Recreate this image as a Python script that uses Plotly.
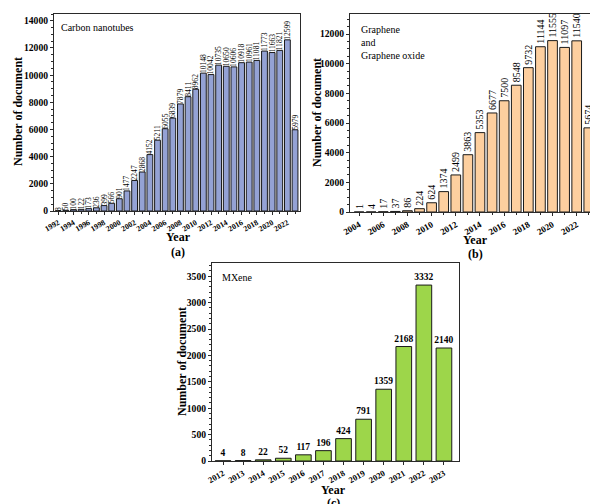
import plotly.graph_objects as go

# ---------------- data ----------------
cnt_years = [1992, 1993, 1994, 1995, 1996, 1997, 1998, 1999, 2000, 2001, 2002, 2003,
             2004, 2005, 2006, 2007, 2008, 2009, 2010, 2011, 2012, 2013, 2014, 2015,
             2016, 2017, 2018, 2019, 2020, 2021, 2022, 2023]
cnt_values = [8, 50, 100, 122, 173, 236, 399, 566, 901, 1477, 2247, 2868,
              4152, 5211, 6055, 6839, 7879, 8411, 8962, 10148, 10042, 10735, 10650, 10606,
              10918, 10961, 11081, 11773, 11663, 11821, 12599, 5979]
cnt_ticks = [1992, 1994, 1996, 1998, 2000, 2002, 2004, 2006, 2008, 2010,
             2012, 2014, 2016, 2018, 2020, 2022]

gr_years = [2004, 2005, 2006, 2007, 2008, 2009, 2010, 2011, 2012, 2013,
            2014, 2015, 2016, 2017, 2018, 2019, 2020, 2021, 2022, 2023]
gr_values = [1, 4, 17, 37, 86, 224, 624, 1374, 2499, 3863,
             5353, 6677, 7500, 8548, 9732, 11144, 11555, 11097, 11540, 5674]
gr_ticks = [2004, 2006, 2008, 2010, 2012, 2014, 2016, 2018, 2020, 2022]

mx_years = [2012, 2013, 2014, 2015, 2016, 2017, 2018, 2019, 2020, 2021, 2022, 2023]
mx_values = [4, 8, 22, 52, 117, 196, 424, 791, 1359, 2168, 3332, 2140]

W, H = 590, 504
FONT = "Liberation Serif"


def px(x):
    return x / W


def py(y):
    return 1 - y / H


fig = go.Figure()

fig.add_trace(go.Bar(
    x=cnt_years, y=cnt_values, xaxis="x", yaxis="y",
    marker=dict(color="#94a2d4", line=dict(color="#1a1a1a", width=1)),
    width=0.76, text=cnt_values, textposition="outside", textangle=-90,
    constraintext="none", cliponaxis=False,
    textfont=dict(family=FONT, size=7.6, color="black"),
))
fig.add_trace(go.Bar(
    x=gr_years, y=gr_values, xaxis="x2", yaxis="y2",
    marker=dict(color="#fdcf9f", line=dict(color="#1a1a1a", width=1)),
    width=0.8, text=gr_values, textposition="outside", textangle=-90,
    constraintext="none", cliponaxis=False,
    textfont=dict(family=FONT, size=10, color="black"),
))
fig.add_trace(go.Bar(
    x=mx_years, y=mx_values, xaxis="x3", yaxis="y3",
    marker=dict(color="#9dd64a", line=dict(color="#1a1a1a", width=1)),
    width=0.78, text=mx_values, textposition="outside", textangle=0,
    constraintext="none", cliponaxis=False,
    textfont=dict(family=FONT, size=9.5, color="black", weight="bold"),
))

tickfont_y = dict(family=FONT, size=9.6, color="black", weight="bold")
line_col = "#2a2a2a"

xcommon = dict(showgrid=False, zeroline=False, showline=True, linecolor=line_col,
               linewidth=1.2, ticks="outside", ticklen=3, tickcolor=line_col,
               tickangle=-30, fixedrange=True, automargin=False)
ycommon = dict(showgrid=False, zeroline=False, showline=True, linecolor=line_col,
               linewidth=1.2, ticks="outside", ticklen=3, tickcolor=line_col,
               tickfont=tickfont_y, fixedrange=True, automargin=False, tickformat="d",
               minor=dict(ticks="outside", ticklen=1.5, tickcolor=line_col))

fig.update_layout(
    width=W, height=H,
    margin=dict(l=0, r=0, t=0, b=0, autoexpand=False),
    paper_bgcolor="white", plot_bgcolor="white",
    showlegend=False, bargap=0.2,
    font=dict(family=FONT, color="black"),
    xaxis=dict(xcommon, domain=[px(54), px(300)], anchor="y", mirror=True,
               range=[1991.45, 2023.65], tickmode="array", tickvals=cnt_ticks,
               ticktext=[str(t) for t in cnt_ticks],
               tickfont=dict(family=FONT, size=7.8, color="black", weight="bold"),
               minor=dict(ticks="outside", ticklen=1.5, dtick=1, tick0=1992, tickcolor=line_col)),
    yaxis=dict(ycommon, domain=[py(211), py(14)], anchor="x", mirror=True,
               range=[0, 14500], dtick=2000),
    xaxis2=dict(xcommon, domain=[px(350), 1.0], anchor="y2", mirror=True,
                range=[2003.25, 2023.1], tickmode="array", tickvals=gr_ticks,
                ticktext=[str(t) for t in gr_ticks],
                tickfont=dict(family=FONT, size=9, color="black", weight="bold"),
                minor=dict(ticks="outside", ticklen=1.5, dtick=1, tick0=2004, tickcolor=line_col)),
    yaxis2=dict(ycommon, domain=[py(212), py(14)], anchor="x2", mirror=False,
                range=[0, 13350], dtick=2000),
    xaxis3=dict(xcommon, domain=[px(212), px(459)], anchor="y3", mirror=True,
                range=[2011.45, 2023.75], tickmode="array", tickvals=mx_years,
                ticktext=[str(t) for t in mx_years],
                tickfont=dict(family=FONT, size=8.6, color="black", weight="bold")),
    yaxis3=dict(ycommon, domain=[py(461), py(263)], anchor="x3", mirror=True,
                range=[0, 3750], dtick=500),
)

title_font = dict(family=FONT, size=12, color="black", weight="bold")
note_font = dict(family=FONT, size=10, color="black")

annots = [
    # y-axis titles
    dict(x=px(18), y=py(112), text="Number of document", textangle=-90, font=title_font),
    dict(x=px(317), y=py(113), text="Number of document", textangle=-90, font=title_font),
    dict(x=px(182), y=py(362), text="Number of document", textangle=-90, font=title_font),
    # x-axis titles
    dict(x=px(178), y=py(237), text="Year", font=title_font),
    dict(x=px(475), y=py(240), text="Year", font=title_font),
    dict(x=px(333), y=py(490), text="Year", font=title_font),
    # panel letters
    dict(x=px(178), y=py(252), text="(a)", font=title_font),
    dict(x=px(475), y=py(254), text="(b)", font=title_font),
    dict(x=px(333), y=py(503), text="(c)", font=title_font),
]
for a in annots:
    a.update(xref="paper", yref="paper", showarrow=False, xanchor="center", yanchor="middle")

annots += [
    dict(x=px(59), y=py(20), text="Carbon nanotubes", font=note_font,
         xref="paper", yref="paper", showarrow=False, xanchor="left", yanchor="top"),
    dict(x=px(359), y=py(22), text="Graphene<br>and<br>Graphene oxide", font=note_font,
         align="left", xref="paper", yref="paper", showarrow=False, xanchor="left", yanchor="top"),
    dict(x=px(220), y=py(270), text="MXene", font=note_font,
         xref="paper", yref="paper", showarrow=False, xanchor="left", yanchor="top"),
]
fig.update_layout(annotations=annots)

fig.write_html("out.html", config={"displayModeBar": False},
               post_script="document.body.style.margin='0';document.body.style.overflow='hidden';")
